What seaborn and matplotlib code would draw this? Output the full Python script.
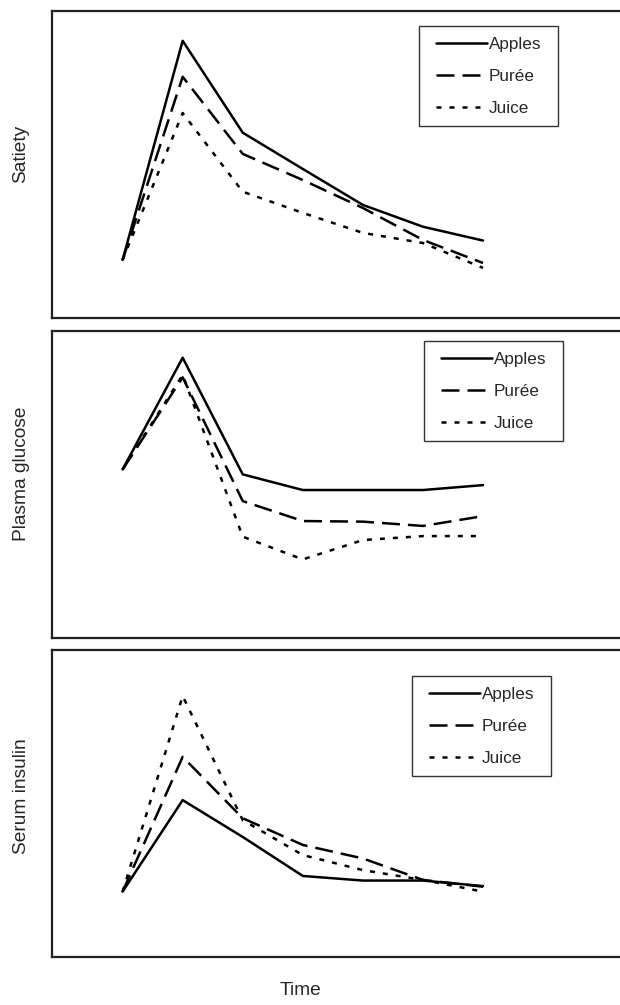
import numpy as np
import pandas as pd
import seaborn as sns
import matplotlib.pyplot as plt

sns.set_style('white')
plt.rcParams['font.family'] = ['Liberation Sans', 'DejaVu Sans']

time = [0, 1, 2, 3, 4, 5, 6]
foods = ['Apples', 'Purée', 'Juice']

satiety_apples = [18.9, 90.2, 60.3, 48.5, 36.8, 29.7, 25.2]
satiety_puree = [18.9, 78.5, 53.4, 44.9, 35.8, 25.4, 17.9]
satiety_juice = [18.9, 66.7, 41.1, 34.2, 27.7, 24.4, 16.3]

glucose_apples = [54.9, 91.3, 53.3, 48.2, 48.2, 48.2, 49.8]
glucose_puree = [54.9, 84.9, 44.6, 38.1, 37.9, 36.5, 39.7]
glucose_juice = [54.9, 85.7, 33.0, 25.6, 31.9, 33.2, 33.2]

insulin_apples = [21.3, 51.1, 39.1, 26.4, 24.9, 24.9, 23.1]
insulin_puree = [21.3, 65.2, 45.2, 36.5, 32.1, 25.1, 22.9]
insulin_juice = [21.3, 85.0, 44.6, 33.2, 28.3, 25.1, 21.3]

panels = [
    ('Satiety', [satiety_apples, satiety_puree, satiety_juice]),
    ('Plasma glucose', [glucose_apples, glucose_puree, glucose_juice]),
    ('Serum insulin', [insulin_apples, insulin_puree, insulin_juice]),
]

W, H = 620, 1005
fig = plt.figure(figsize=(W / 100, H / 100), dpi=100)

# panel boxes in pixels: (top, bottom), legend box upper-left corner
boxes = [(10.7, 318), (331, 638), (650, 957)]
legend_pos = [(419, 26), (424, 341), (412, 676)]
label_y = [154, 474, 796]
left = 52
x0_px, step_px = 122.6, 60.07
padx, pady = 17, 10.5

dashes = {'Apples': '', 'Purée': (7.2, 3.2), 'Juice': (2.0, 3.2)}

legends = []
for (name, series), (top, bot), (lx, ly), yl in zip(panels, boxes, legend_pos, label_y):
    ax = fig.add_axes([left / W, 1 - bot / H, 1 - left / W, (bot - top) / H])
    df = pd.DataFrame({
        'Time': time * 3,
        'value': sum(series, []),
        'Food': [f for f in foods for _ in time],
    })
    sns.lineplot(data=df, x='Time', y='value', style='Food', style_order=foods,
                 dashes=dashes, color='black', linewidth=1.8, ax=ax)
    ax.set_xlim(-(x0_px - left) / step_px, (W - x0_px) / step_px)
    ax.set_ylim(0, 100)
    ax.set_xticks([])
    ax.set_yticks([])
    ax.set_xlabel('')
    ax.set_ylabel('')
    for s in ['left', 'top', 'bottom']:
        ax.spines[s].set_color('#222222')
        ax.spines[s].set_linewidth(1.6)
    ax.spines['right'].set_visible(False)

    handles, labels = ax.get_legend_handles_labels()
    for h in handles:
        h.set_linewidth(1.8)
        h.set_color('black')
    leg = ax.legend(handles, labels, loc='upper left',
                    bbox_to_anchor=((lx + padx) / W, 1 - (ly + pady) / H),
                    bbox_transform=fig.transFigure,
                    borderaxespad=0, borderpad=0, frameon=False, fontsize=12.3,
                    handlelength=3.0, handletextpad=0.1, labelspacing=1.0)
    legends.append(leg)

    fig.text(21 / W, 1 - yl / H, name, rotation=90, ha='center', va='center', fontsize=13.8)

fig.text(301 / W, 1 - 990 / H, 'Time', ha='center', va='center', fontsize=13.8)

# legend frames drawn by hand: wider side padding than top/bottom
fig.canvas.draw()
for leg in legends:
    bb = leg.get_window_extent()
    rect = plt.Rectangle(((bb.x0 - padx) / W, (bb.y0 - pady) / H),
                         (bb.width + 2 * padx) / W, (bb.height + 2 * pady) / H,
                         transform=fig.transFigure, fill=False,
                         edgecolor='#333333', linewidth=1.0)
    fig.add_artist(rect)

fig.savefig('out.png', dpi=100)
